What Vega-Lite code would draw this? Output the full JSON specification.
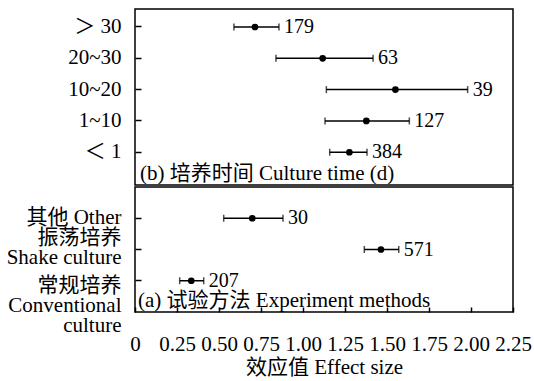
{
  "$schema": "https://vega.github.io/schema/vega-lite/v6.json",
  "background": "white",
  "padding": {"left": 5, "top": 8, "right": 0, "bottom": 0},
  "spacing": 0,
  "config": {
    "font": "'Liberation Serif', 'Noto Sans CJK SC', serif",
    "view": {"stroke": "black", "strokeWidth": 1.5},
    "axis": {
      "labelFont": "'Liberation Serif', 'Noto Sans CJK SC', serif",
      "labelFontSize": 21,
      "labelColor": "black",
      "titleFont": "'Liberation Serif', 'Noto Sans CJK SC', serif",
      "titleFontSize": 21,
      "titleFontWeight": "normal",
      "titleColor": "black",
      "tickColor": "black",
      "tickWidth": 1.5,
      "domain": false,
      "grid": false
    },
    "text": {"font": "'Liberation Serif', 'Noto Sans CJK SC', serif", "fontSize": 20, "color": "black"}
  },
  "datasets": {
    "time": [
      {"group": "＞ 30", "es": 0.714, "lo": 0.589, "hi": 0.857, "n": 179},
      {"group": "20~30", "es": 1.117, "lo": 0.839, "hi": 1.417, "n": 63},
      {"group": "10~20", "es": 1.55, "lo": 1.139, "hi": 1.98, "n": 39},
      {"group": "1~10", "es": 1.377, "lo": 1.131, "hi": 1.633, "n": 127},
      {"group": "＜ 1", "es": 1.276, "lo": 1.159, "hi": 1.381, "n": 384}
    ],
    "method": [
      {"group": "其他 Other", "es": 0.698, "lo": 0.528, "hi": 0.881, "n": 30},
      {"group": "振荡培养 Shake culture", "es": 1.464, "lo": 1.365, "hi": 1.57, "n": 571},
      {"group": "常规培养 Conventional culture", "es": 0.335, "lo": 0.266, "hi": 0.409, "n": 207}
    ]
  },
  "vconcat": [
    {
      "width": 378,
      "height": 176,
      "layer": [
        {
          "data": {"name": "time"},
          "encoding": {
            "y": {
              "field": "group", "type": "nominal", "sort": null,
              "scale": {"paddingInner": 0, "paddingOuter": 0.31, "align": 0.12},
              "axis": {"title": null, "tickSize": -6, "labelPadding": 20, "labelAlign": "right", "labelBaseline": "middle"}
            }
          },
          "layer": [
            {
              "mark": {"type": "rule", "color": "black", "strokeWidth": 1.5},
              "encoding": {
                "x": {"field": "lo", "type": "quantitative", "scale": {"domain": [0, 2.25], "nice": false, "zero": false}, "axis": null},
                "x2": {"field": "hi"}
              }
            },
            {
              "mark": {"type": "tick", "orient": "vertical", "size": 7, "thickness": 1.5, "color": "black"},
              "encoding": {"x": {"field": "lo", "type": "quantitative"}}
            },
            {
              "mark": {"type": "tick", "orient": "vertical", "size": 7, "thickness": 1.5, "color": "black"},
              "encoding": {"x": {"field": "hi", "type": "quantitative"}}
            },
            {
              "mark": {"type": "circle", "size": 45, "color": "black", "opacity": 1},
              "encoding": {"x": {"field": "es", "type": "quantitative"}}
            },
            {
              "mark": {"type": "text", "align": "left", "baseline": "middle", "dx": 5},
              "encoding": {"x": {"field": "hi", "type": "quantitative"}, "text": {"field": "n"}}
            }
          ]
        },
        {
          "data": {"values": [{"t": "(b) 培养时间 Culture time (d)"}]},
          "mark": {"type": "text", "align": "left", "baseline": "alphabetic", "dx": 5, "dy": -5, "fontSize": 21},
          "encoding": {"x": {"datum": 0, "type": "quantitative"}, "y": {"value": "height"}, "text": {"field": "t"}}
        }
      ]
    },
    {
      "width": 378,
      "height": 125,
      "layer": [
        {
          "data": {"name": "method"},
          "encoding": {
            "y": {
              "field": "group", "type": "nominal", "sort": null,
              "scale": {"paddingInner": 0, "paddingOuter": 0.5},
              "axis": {
                "title": null, "tickSize": -6, "labelPadding": 20, "labelAlign": "right", "labelBaseline": "middle",
                "labelLineHeight": 20,
                "labelOffset": {
                  "condition": [
                    {"test": "datum.label == '振荡培养 Shake culture'", "value": -12},
                    {"test": "datum.label == '常规培养 Conventional culture'", "value": 5}
                  ],
                  "value": 0
                },
                "labelExpr": "datum.label == '常规培养 Conventional culture' ? ['常规培养', 'Conventional', 'culture'] : datum.label == '振荡培养 Shake culture' ? ['振荡培养', 'Shake culture'] : datum.label"
              }
            }
          },
          "layer": [
            {
              "mark": {"type": "rule", "color": "black", "strokeWidth": 1.5},
              "encoding": {
                "x": {
                  "field": "lo", "type": "quantitative",
                  "scale": {"domain": [0, 2.25], "nice": false, "zero": false},
                  "axis": {
                    "title": "效应值 Effect size",
                    "values": [0, 0.25, 0.5, 0.75, 1, 1.25, 1.5, 1.75, 2, 2.25],
                    "labelExpr": "datum.value == 0 ? '0' : format(datum.value, '.2f')",
                    "tickSize": -5,
                    "labelPadding": 26,
                    "labelFlush": false,
                    "labelOverlap": false,
                    "titlePadding": 2
                  }
                },
                "x2": {"field": "hi"}
              }
            },
            {
              "mark": {"type": "tick", "orient": "vertical", "size": 7, "thickness": 1.5, "color": "black"},
              "encoding": {"x": {"field": "lo", "type": "quantitative"}}
            },
            {
              "mark": {"type": "tick", "orient": "vertical", "size": 7, "thickness": 1.5, "color": "black"},
              "encoding": {"x": {"field": "hi", "type": "quantitative"}}
            },
            {
              "mark": {"type": "circle", "size": 45, "color": "black", "opacity": 1},
              "encoding": {"x": {"field": "es", "type": "quantitative"}}
            },
            {
              "mark": {"type": "text", "align": "left", "baseline": "middle", "dx": 5},
              "encoding": {"x": {"field": "hi", "type": "quantitative"}, "text": {"field": "n"}}
            }
          ]
        },
        {
          "data": {"values": [{"t": "(a) 试验方法 Experiment methods"}]},
          "mark": {"type": "text", "align": "left", "baseline": "alphabetic", "dx": 3, "dy": -5, "fontSize": 21},
          "encoding": {"x": {"datum": 0, "type": "quantitative"}, "y": {"value": "height"}, "text": {"field": "t"}}
        }
      ]
    }
  ]
}
